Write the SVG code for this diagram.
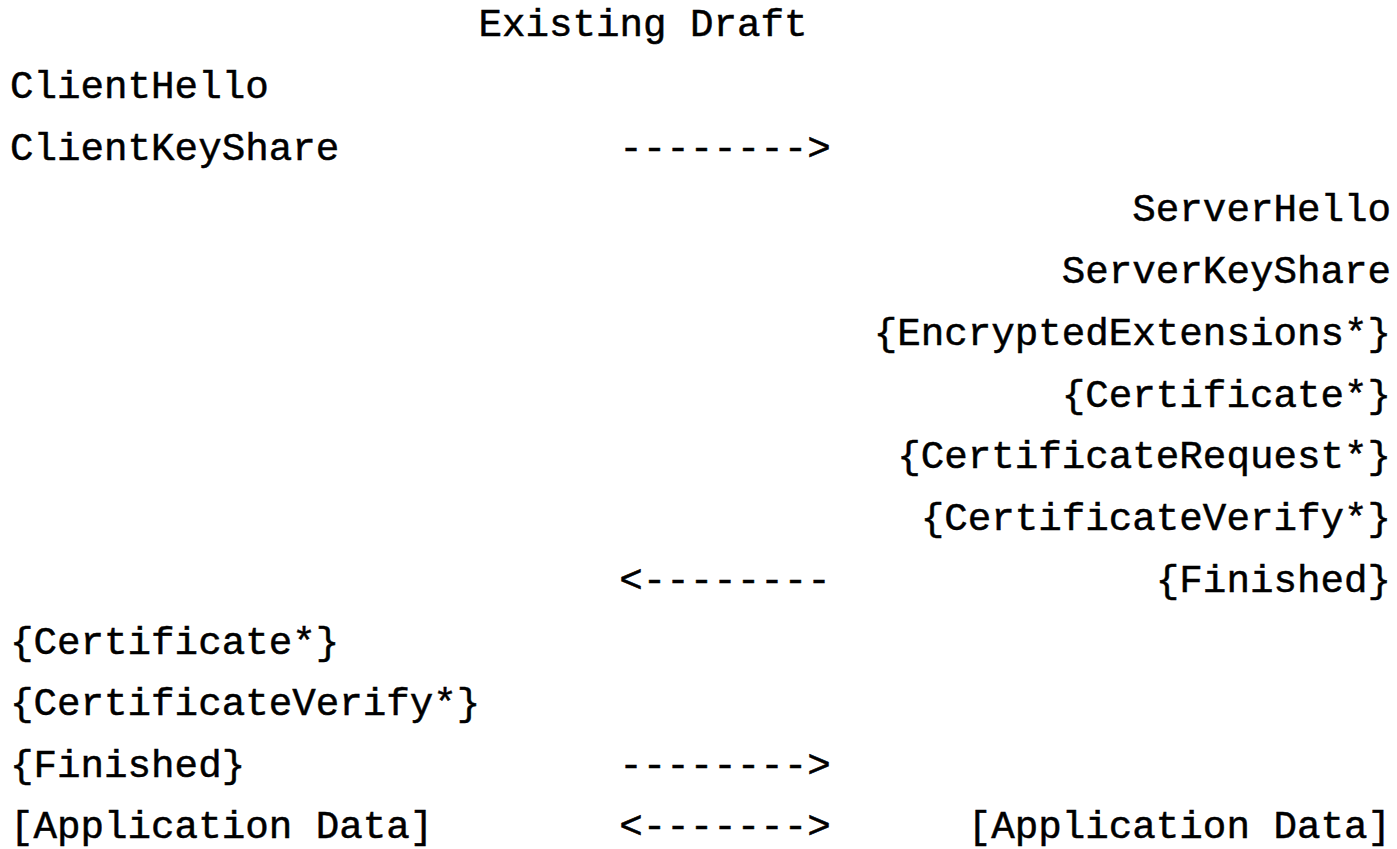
<svg xmlns="http://www.w3.org/2000/svg" width="1397" height="849" viewBox="0 0 1397 849">
<style>
text { font-family: "Liberation Mono", "Courier New", monospace; font-size: 39.2px; fill: #000; stroke: #000; stroke-width: 0.5px; }
.l { text-anchor: start; }
.r { text-anchor: end; }
.c { text-anchor: middle; }
</style>
<rect width="1397" height="849" fill="#fff"/>
<g id="title"><text class="c" x="643" y="36">Existing Draft</text></g>
<g id="client-hello"><text class="l" x="10" y="97.8">ClientHello</text></g>
<g id="client-keyshare"><text class="l" x="10" y="159.5">ClientKeyShare</text></g>
<g id="server-hello"><text class="r" x="1391" y="221.3">ServerHello</text></g>
<g id="server-keyshare"><text class="r" x="1391" y="283">ServerKeyShare</text></g>
<g id="encrypted-extensions"><text class="r" x="1391" y="344.8">{EncryptedExtensions*}</text></g>
<g id="server-certificate"><text class="r" x="1391" y="406.5">{Certificate*}</text></g>
<g id="certificate-request"><text class="r" x="1391" y="468.3">{CertificateRequest*}</text></g>
<g id="server-certificate-verify"><text class="r" x="1391" y="530">{CertificateVerify*}</text></g>
<g id="server-finished"><text class="r" x="1391" y="591.8">{Finished}</text></g>
<g id="client-certificate"><text class="l" x="10" y="653.5">{Certificate*}</text></g>
<g id="client-certificate-verify"><text class="l" x="10" y="715.3">{CertificateVerify*}</text></g>
<g id="client-finished"><text class="l" x="10" y="777">{Finished}</text></g>
<g id="client-app-data"><text class="l" x="10" y="838">[Application Data]</text></g>
<g id="server-app-data"><text class="r" x="1391" y="838">[Application Data]</text></g>
<g id="connectors">
<text class="c" x="725" y="159.5">--------&gt;</text>
<text class="c" x="725" y="591.8">&lt;--------</text>
<text class="c" x="725" y="777">--------&gt;</text>
<text class="c" x="725" y="838">&lt;-------&gt;</text>
</g>
</svg>
